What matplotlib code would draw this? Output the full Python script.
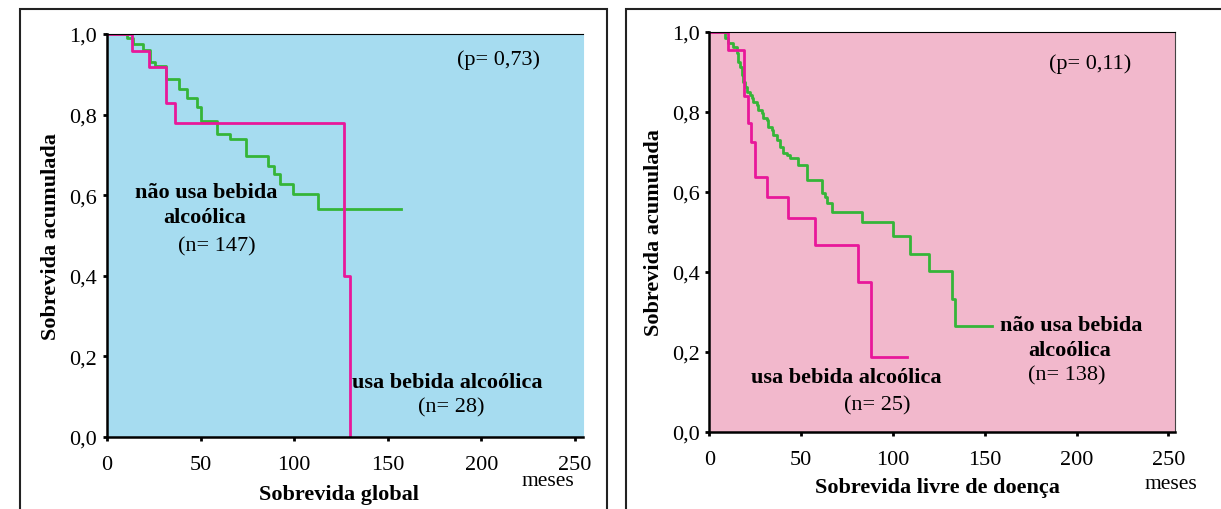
import matplotlib
matplotlib.use("Agg")
import matplotlib.pyplot as plt
from matplotlib.patches import Rectangle

plt.rcParams['font.family'] = ['Liberation Serif', 'DejaVu Serif']

# Sobrevida global (left panel)
og_nd_t = [0, 10.5, 14, 19.4, 23, 25.6, 31.5, 38.5, 43, 48, 50, 59, 65.7, 74,
           86, 89, 92.5, 99.5, 112.5, 157]
og_nd_s = [1.0, 0.99, 0.975, 0.96, 0.93, 0.92, 0.888, 0.864, 0.84, 0.82, 0.785,
           0.752, 0.739, 0.698, 0.673, 0.653, 0.628, 0.603, 0.566, 0.566]
og_d_t = [0, 13.5, 22.6, 31.5, 36.5, 126.5, 130]
og_d_s = [1.0, 0.957, 0.917, 0.83, 0.778, 0.40, 0.0]

# Sobrevida livre de doenca (right panel)
dfs_nd_t = [0, 8.5, 10.3, 13, 14.9, 15.7, 16.7, 17.6, 18.5, 19.4, 20.3, 22.1, 23,
            23.9, 25.8, 26.6, 28.5, 29.4, 31.2, 32.1, 33.9, 34.8, 36.7, 38.5, 40.3,
            42.1, 43.9, 48.4, 53, 61.2, 63, 63.9, 66.6, 83, 99.8, 109.3, 119.8,
            132, 133.8, 153.8]
dfs_nd_s = [1.0, 0.984, 0.972, 0.963, 0.947, 0.926, 0.913, 0.893, 0.876, 0.863,
            0.851, 0.843, 0.834, 0.826, 0.818, 0.805, 0.797, 0.784, 0.78, 0.763,
            0.755, 0.743, 0.73, 0.713, 0.697, 0.693, 0.684, 0.668, 0.63, 0.597,
            0.588, 0.572, 0.551, 0.526, 0.49, 0.446, 0.403, 0.333, 0.266, 0.266]
dfs_d_t = [0, 10.3, 19, 20.8, 22.5, 24.8, 31.2, 43, 57.5, 81, 87.8, 107.5]
dfs_d_s = [1.0, 0.955, 0.84, 0.772, 0.726, 0.638, 0.588, 0.534, 0.467, 0.376,
           0.188, 0.188]

x_ticks = [0, 50, 100, 150, 200, 250]
y_ticks = [0.0, 0.2, 0.4, 0.6, 0.8, 1.0]
y_ticklabels = ['0,0', '0,2', '0,4', '0,6', '0,8', '1,0']

GREEN = '#35b538'
MAGENTA = '#e8189a'
FS = 16
W, H = 1221, 510

fig = plt.figure(figsize=(W / 100, H / 100), dpi=100)

# outer frames of the two panels
fig.patches.append(Rectangle((20 / W, -0.05), 587 / W, 1 - 10 / H + 0.05,
                             transform=fig.transFigure, fill=False,
                             edgecolor='#222222', lw=1.5))
fig.patches.append(Rectangle((626 / W, -0.05), 600 / W, 1 - 10 / H + 0.05,
                             transform=fig.transFigure, fill=False,
                             edgecolor='#222222', lw=1.5))


def setup(ax, bg, xmax):
    ax.set_facecolor(bg)
    ax.set_xlim(0, xmax)
    ax.set_ylim(0, 1.0)
    ax.set_xticks(x_ticks)
    ax.set_yticks(y_ticks)
    ax.set_yticklabels(y_ticklabels)
    ax.tick_params(axis='both', direction='out', length=3, width=2,
                   labelsize=FS)
    ax.tick_params(axis='x', pad=10)
    ax.tick_params(axis='y', pad=4)
    ax.spines['left'].set_linewidth(1.8)
    ax.spines['bottom'].set_linewidth(1.8)
    ax.spines['top'].set_linewidth(0.8)
    ax.spines['right'].set_linewidth(0.8)
    ax.spines['right'].set_color(bg)
    ax.set_ylabel('Sobrevida acumulada', fontsize=FS, fontweight='bold',
                  labelpad=6)


# left panel
ax1 = fig.add_axes([107 / W, 1 - 438 / H, 476 / W, 403 / H])
setup(ax1, '#a6dcf0', 254.3)
ax1.step(og_nd_t, og_nd_s, where='post', color=GREEN, lw=2)
ax1.step(og_d_t, og_d_s, where='post', color=MAGENTA, lw=2)
ax1.text(209, 0.938, '(p= 0,73)', fontsize=FS, ha='center', va='center')
ax1.text(53, 0.608, 'não usa bebida', fontsize=FS, fontweight='bold',
         ha='center', va='center')
ax1.text(52, 0.546, 'alcoólica', fontsize=FS, fontweight='bold',
         ha='center', va='center')
ax1.text(58.6, 0.474, '(n= 147)', fontsize=FS, ha='center', va='center')
ax1.text(182, 0.137, 'usa bebida alcoólica', fontsize=FS, fontweight='bold',
         ha='center', va='center')
ax1.text(184, 0.074, '(n= 28)', fontsize=FS, ha='center', va='center')
fig.text(339 / W, 1 - 495 / H, 'Sobrevida global', fontsize=FS,
         fontweight='bold', ha='center', va='center')
fig.text(548 / W, 1 - 482 / H, 'meses', fontsize=15.5, ha='center', va='center')

# right panel
ax2 = fig.add_axes([709.4 / W, 1 - 433 / H, 465.6 / W, 400 / H])
setup(ax2, '#f2b8cc', 253.6)
ax2.spines['right'].set_color('#444444')
ax2.step(dfs_nd_t, dfs_nd_s, where='post', color=GREEN, lw=2)
ax2.step(dfs_d_t, dfs_d_s, where='post', color=MAGENTA, lw=2)
ax2.text(207.6, 0.9225, '(p= 0,11)', fontsize=FS, ha='center', va='center')
ax2.text(197, 0.2675, 'não usa bebida', fontsize=FS, fontweight='bold',
         ha='center', va='center')
ax2.text(196, 0.205, 'alcoólica', fontsize=FS, fontweight='bold',
         ha='center', va='center')
ax2.text(194.5, 0.1425, '(n= 138)', fontsize=FS, ha='center', va='center')
ax2.text(74.3, 0.138, 'usa bebida alcoólica', fontsize=FS, fontweight='bold',
         ha='center', va='center')
ax2.text(91.3, 0.0675, '(n= 25)', fontsize=FS, ha='center', va='center')
fig.text(937 / W, 1 - 488 / H, 'Sobrevida livre de doença', fontsize=FS,
         fontweight='bold', ha='center', va='center')
fig.text(1171 / W, 1 - 485 / H, 'meses', fontsize=15.5, ha='center', va='center')

fig.savefig('out.png', dpi=100)
